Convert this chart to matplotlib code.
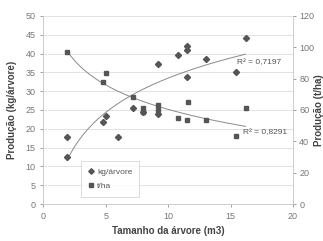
import numpy as np
import matplotlib
matplotlib.use('Agg')
import matplotlib.pyplot as plt

# kg/arvore (left axis)
kg_x = [1.9, 1.9, 4.8, 5.0, 6.0, 7.2, 8.0, 9.2, 9.2, 10.8, 11.5, 11.5, 11.5, 13.0, 15.4, 16.2]
kg_y = [17.9, 12.5, 21.9, 23.5, 17.9, 25.4, 24.5, 37.2, 23.8, 39.5, 42.0, 41.0, 33.8, 38.6, 35.2, 44.0]

# t/ha (right axis)
tha_x = [1.9, 4.8, 5.0, 7.2, 8.0, 8.0, 9.2, 9.2, 10.8, 11.5, 11.6, 13.0, 15.4, 16.2]
tha_y = [97.0, 78.0, 83.4, 68.5, 61.5, 59.0, 63.0, 60.0, 54.7, 53.3, 65.0, 53.6, 43.4, 61.0]

r2_kg_text = 'R² = 0,7197'
r2_tha_text = 'R² = 0,8291'

plt.rcParams['font.family'] = ['Liberation Sans', 'DejaVu Sans']
tick_col = '#777777'
lab_col = '#444444'
mark_col = '#555555'
line_col = '#8a8a8a'

fig = plt.figure(figsize=(3.23, 2.41), dpi=100)
ax = fig.add_axes([0.134, 0.1535, 0.773, 0.7805])
ax2 = ax.twinx()


def log_trend(x, y):
    x = np.asarray(x)
    a, b = np.polyfit(np.log(x), np.asarray(y), 1)
    xs = np.linspace(x.min(), x.max(), 100)
    return xs, a * np.log(xs) + b


xs, ys = log_trend(kg_x, kg_y)
ax.plot(xs, ys, color=line_col, lw=0.7, zorder=2)
h1, = ax.plot(kg_x, kg_y, 'D', color=mark_col, ms=3.1, ls='none', zorder=3, label='kg/árvore')

xs2, ys2 = log_trend(tha_x, tha_y)
ax2.plot(xs2, ys2, color=line_col, lw=0.7, zorder=2)
h2, = ax2.plot(tha_x, tha_y, 's', color=mark_col, ms=3.1, ls='none', zorder=3, label='t/ha')

ax.set_xlim(0, 20)
ax.set_ylim(0, 50)
ax2.set_ylim(0, 120)
ax.set_xticks(range(0, 21, 5))
ax.set_yticks(range(0, 51, 5))
ax2.set_yticks(range(0, 121, 20))
ax.grid(axis='y', color='#dddddd', lw=0.6)
ax.set_axisbelow(True)

for a in (ax, ax2):
    a.tick_params(labelsize=6.5, colors=tick_col, length=2.5, width=0.5, pad=3)
    for s in a.spines.values():
        s.set_color('#cccccc')
        s.set_linewidth(0.6)
    a.spines['top'].set_visible(False)
ax2.tick_params(pad=2)

ax.set_xlabel('Tamanho da árvore (m3)', fontsize=7, fontweight='bold', color=lab_col, labelpad=4)
ax.set_ylabel('Produção (kg/árvore)', fontsize=7, fontweight='bold', color=lab_col, labelpad=6)
ax2.set_ylabel('Produção (t/ha)', fontsize=7, fontweight='bold', color=lab_col)
ax2.yaxis.set_label_coords(1.086, 0.5)

ax.text(15.5, 37.5, r2_kg_text, fontsize=6, color='#555555', va='center', ha='left')
ax.text(16.0, 18.9, r2_tha_text, fontsize=6, color='#555555', va='center', ha='left')

leg = ax.legend(handles=[h1, h2], loc='lower left', bbox_to_anchor=(0.135, 0.015),
                fontsize=6, frameon=True, fancybox=False, handlelength=0.8,
                handletextpad=0.3, borderpad=0.8, labelspacing=0.8, markerscale=0.9)
leg.get_frame().set_edgecolor('#cccccc')
leg.get_frame().set_linewidth(0.6)
for t in leg.get_texts():
    t.set_color('#555555')

fig.savefig('out.png', dpi=100)
